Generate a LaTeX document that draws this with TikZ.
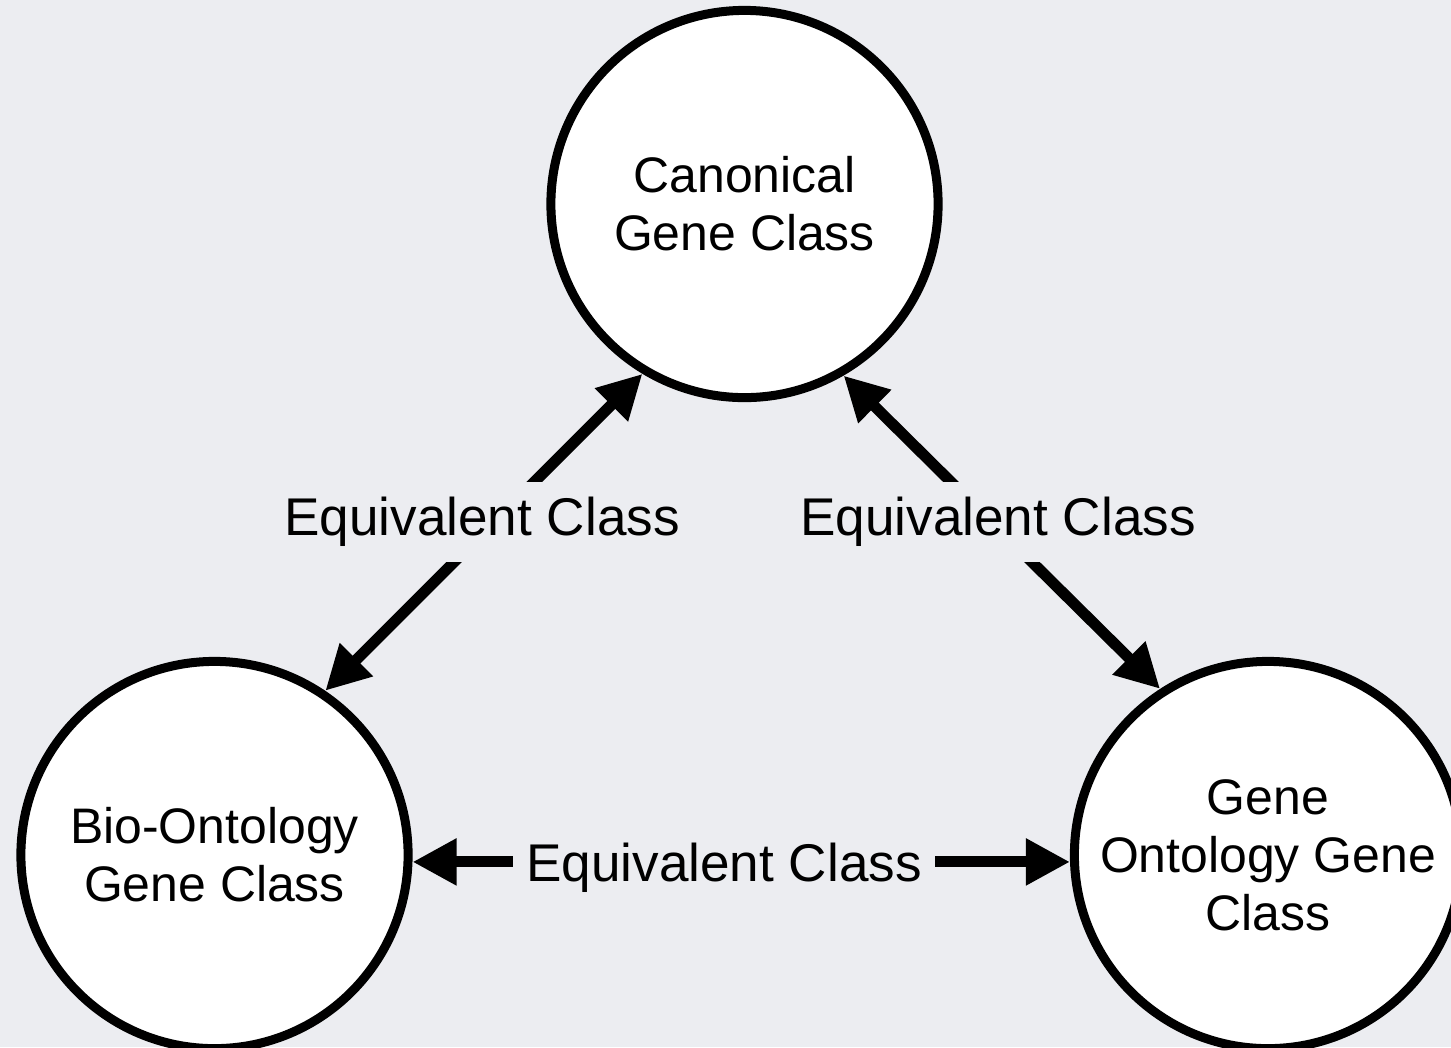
\documentclass[tikz,border=0pt]{standalone}
\usepackage{fontspec}
\setmainfont{Liberation Sans}
\usetikzlibrary{arrows.meta}
\definecolor{bgcol}{RGB}{236,237,241}
\begin{document}
\begin{tikzpicture}[x=0.01cm,y=-0.01cm,
  klass/.style={circle, draw=black, line width=0.09cm, fill=white,
    minimum size=3.87cm, inner sep=0pt, align=center,
    font=\fontsize{14.2}{16.5}\selectfont},
  equiv/.style={line width=0.11cm,
    {Triangle[length=0.44cm,width=0.44cm]}-{Triangle[length=0.44cm,width=0.44cm]}},
  lab/.style={fill=bgcol, inner xsep=0.13cm, inner ysep=0.15cm,
    font=\fontsize{15.1}{18}\selectfont}]
\fill[bgcol] (0,0) rectangle (1451,1047);
\useasboundingbox (0,0) rectangle (1451,1047);
\clip (0,0) rectangle (1451,1047);

% the three gene classes
\node[klass] (canon) at (744.5,204) {Canonical\\Gene Class};
\node[klass] (bio)   at (214.5,855) {Bio-Ontology\\Gene Class};
\node[klass] (go)    at (1268,855)  {Gene\\Ontology Gene\\Class};

% equivalence links
\draw[equiv] (canon.-121.4) -- (bio.56.5);
\draw[equiv] (canon.-60.3) -- (go.123.6);
\draw[equiv] (bio.-2.9) -- (go.182.9);

% link labels
\node[lab] (eqa) at (482,522) {Equivalent Class};
\node[lab] (eqb) at (998,522) {Equivalent Class};
\node[lab] (eqc) at (724,868) {Equivalent Class};
\end{tikzpicture}
\end{document}
